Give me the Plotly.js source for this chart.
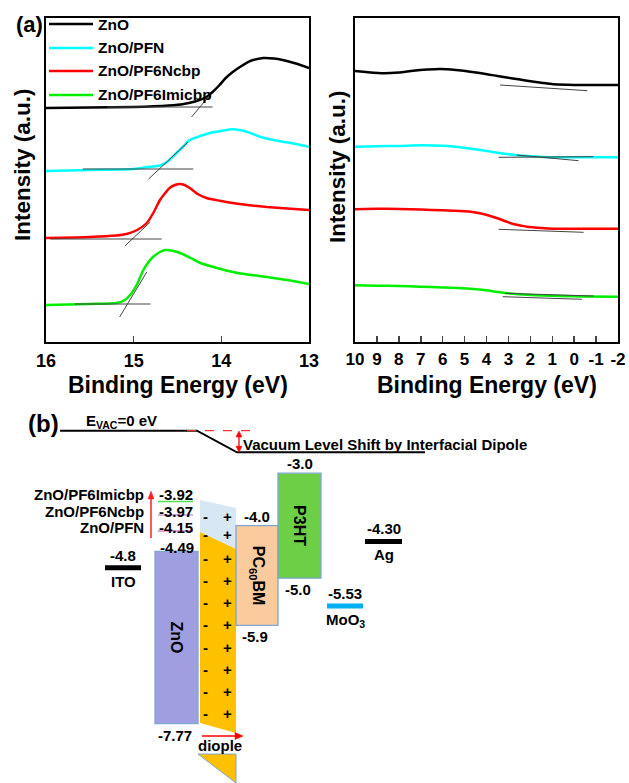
<!DOCTYPE html>
<html>
<head>
<meta charset="utf-8">
<script src="https://cdn.plot.ly/plotly-3.0.1.min.js"></script>
<style>html,body{margin:0;padding:0;background:#fff;}#chart{width:629px;height:783px;}</style>
</head>
<body>
<div id="chart"></div>
<script>
// ---------- DATA: panel (a) UPS cut-off region ----------
const seriesNames = ['ZnO', 'ZnO/PFN', 'ZnO/PF6Ncbp', 'ZnO/PF6Imicbp'];
const cutoffE_ZnO = [16, 15.5, 15, 14.6, 14.43, 14.3, 14.17, 14.1, 14.02, 13.95, 13.87, 13.77, 13.67, 13.52, 13.4, 13.3, 13.15, 13.0];
const cutoffI_ZnO = [234, 234.5, 235, 236.5, 238, 240.5, 245, 250, 257, 264, 270, 276, 281, 284, 283.5, 282, 278.5, 274];
const cutoffE_PFN = [16, 15.5, 15.0, 14.81, 14.7, 14.62, 14.51, 14.43, 14.36, 14.24, 14.13, 14.0, 13.87, 13.7, 13.56, 13.43, 13.3, 13.15, 13.0];
const cutoffI_PFN = [171, 172, 173, 175.3, 176.5, 180, 189, 196, 202, 206, 209, 211, 212.7, 210, 205.3, 202.5, 200.3, 198, 195.3];
const cutoffE_Ncbp = [16, 15.5, 15.2, 15.08, 14.96, 14.85, 14.77, 14.7, 14.64, 14.59, 14.53, 14.47, 14.42, 14.36, 14.27, 14.17, 14.0, 13.87, 13.7, 13.48, 13.25, 13.0];
const cutoffI_Ncbp = [104, 105, 106.5, 108, 112, 119, 130, 142, 149, 154, 157, 158, 157, 154, 148, 144, 141, 139, 137, 135, 133.5, 132];
const cutoffE_Imicbp = [16, 15.5, 15.2, 15.12, 15.04, 14.96, 14.89, 14.83, 14.78, 14.7, 14.64, 14.57, 14.47, 14.35, 14.24, 14.05, 13.87, 13.7, 13.48, 13.25, 13.0];
const cutoffI_Imicbp = [37, 38, 39, 41, 47, 58, 72, 80, 85, 90, 92, 91.5, 89, 84, 79, 74, 70, 67.5, 65, 62, 58];
// tangent / baseline construction lines (cut-off)
const tanLeftE = [[15.3, 14.1], [14.34, 14.13], [15.58, 14.32], [14.83, 14.38], [15.95, 14.68], [15.1, 14.81], [15.67, 14.81], [15.16, 14.85]];
const tanLeftI = [[235, 235], [225, 247], [173, 173], [163, 200], [103, 103], [96, 120], [38, 38], [25, 70]];

// ---------- DATA: panel (a) valence band region ----------
const vbE_ZnO = [10, 9.5, 8.7, 8, 7.35, 6.7, 6.1, 5.4, 4.75, 4.1, 3.5, 2.8, 2.15, 1.5, 0.96, 0.3, -0.27, -1, -2];
const vbI_ZnO = [271, 270, 268.7, 269.5, 271.3, 272.5, 273, 272, 270.3, 268.3, 266, 263.5, 261.3, 259.3, 257.7, 257.2, 257, 257, 257];
const vbE_PFN = [10, 9, 8, 7.03, 6, 5.2, 4.3, 3.5, 2.8, 2.15, 1.4, 0.64, -0.5, -2];
const vbI_PFN = [195.3, 195.8, 196, 196.7, 196.2, 194.7, 192, 189.3, 187.3, 186, 185, 184.7, 184.7, 184.7];
const vbE_Ncbp = [10, 9, 8.55, 7.5, 6.5, 5.5, 4.8, 4.3, 3.9, 3.5, 3.1, 2.78, 2.4, 2.15, 1.5, 0.96, 0, -1, -2];
const vbI_Ncbp = [132.7, 133.2, 133.3, 132.8, 132, 131.3, 130.5, 128.7, 126.5, 123.7, 120.5, 118, 116.3, 115.3, 114, 113.3, 113.3, 113.3, 113.3];
const vbE_Imicbp = [10, 9, 8, 7.03, 6, 4.75, 4, 3.5, 2.8, 2.15, 1.4, 0.64, -0.5, -2];
const vbI_Imicbp = [56.7, 56.3, 56, 55.3, 54.5, 53.3, 51.8, 50, 48.3, 47.3, 46.5, 46, 45.5, 45.3];
const tanRightE = [[3.38, -0.6], [3.45, -0.88], [2.62, -0.2], [3.45, -0.43], [3.26, -0.35], [3.15, -0.88]];
const tanRightI = [[257, 251.3], [184.7, 185.3], [187, 181.3], [112.7, 109.7], [45.3, 42.7], [48.7, 46]];

const leftTicks = [16, 15, 14, 13];
const rightTicks = [10, 9, 8, 7, 6, 5, 4, 3, 2, 1, 0, -1, -2];

// ---------- DATA: panel (b) energy levels (eV) ----------
const materials = ['ZnO', 'PC<sub>60</sub>BM', 'P3HT'];
const lumo = [-4.49, -4.0, -3.0];
const homo = [-7.77, -5.9, -5.0];
const lumoLabels = ['-4.49', '-4.0', '-3.0'];
const homoLabels = ['-7.77', '-5.9', '-5.0'];
const electrodes = ['ITO', 'MoO<sub>3</sub>', 'Ag'];
const workFunction = [-4.8, -5.53, -4.30];
const wfLabels = ['-4.8', '-5.53', '-4.30'];
const interlayers = ['ZnO/PFN', 'ZnO/PF6Ncbp', 'ZnO/PF6Imicbp'];
const interWF = [-4.15, -3.97, -3.92];
const interLabels = ['-4.15', '-3.97', '-3.92'];

// ---------- layout helpers (positions / styles) ----------
const W = 629, H = 783;
const P = x => x / W;
const Q = y => 1 - y / H;
const FONT = 'Liberation Sans, Arial, sans-serif';
const colors = ['#000000', '#00ffff', '#ff0000', '#00ee00'];
const boxX = [176.5, 257, 299.5];
const boxW = [43, 42, 43];
const boxFill = ['#9e9ee0', '#fbca9d', '#6ccf45'];
const lumoShift = [-6.5, -1, -1];
const elecX0 = [105, 327, 365];
const elecX1 = [141, 363, 402];
const elecColor = ['#000000', '#00b0f0', '#000000'];
const interShift = [6, 12.5, 26.5];
const interLine = [2.5, 9, 20];
const interLineColor = ['#e27fd0', '#c39be2', '#55dd55'];

const traces = [];
const leftE = [cutoffE_ZnO, cutoffE_PFN, cutoffE_Ncbp, cutoffE_Imicbp];
const leftI = [cutoffI_ZnO, cutoffI_PFN, cutoffI_Ncbp, cutoffI_Imicbp];
const rightE = [vbE_ZnO, vbE_PFN, vbE_Ncbp, vbE_Imicbp];
const rightI = [vbI_ZnO, vbI_PFN, vbI_Ncbp, vbI_Imicbp];
for (let i = 0; i < 4; i++) {
  traces.push({type: 'scatter', mode: 'lines', name: seriesNames[i], x: leftE[i], y: leftI[i],
    line: {color: colors[i], width: 2.5, shape: 'spline', smoothing: 0.6}, xaxis: 'x', yaxis: 'y', hoverinfo: 'skip'});
  traces.push({type: 'scatter', mode: 'lines', name: seriesNames[i], x: rightE[i], y: rightI[i],
    line: {color: colors[i], width: 2.5, shape: 'spline', smoothing: 0.6}, xaxis: 'x2', yaxis: 'y2', hoverinfo: 'skip'});
}
for (let k = 0; k < tanLeftE.length; k++) {
  traces.push({type: 'scatter', mode: 'lines', x: tanLeftE[k], y: tanLeftI[k], line: {color: '#444', width: 1},
    xaxis: 'x', yaxis: 'y', hoverinfo: 'skip'});
}
for (let k = 0; k < tanRightE.length; k++) {
  traces.push({type: 'scatter', mode: 'lines', x: tanRightE[k], y: tanRightI[k], line: {color: '#444', width: 1},
    xaxis: 'x2', yaxis: 'y2', hoverinfo: 'skip'});
}
// energy-level boxes
traces.push({type: 'bar', x: boxX, width: boxW, base: homo, y: lumo.map((t, i) => t - homo[i]),
  marker: {color: boxFill, line: {color: '#7fa7d0', width: 1.3}},
  text: materials, textposition: 'inside', insidetextanchor: 'middle', textangle: 90,
  textfont: {family: FONT, size: 16, color: '#000', weight: 'bold'},
  xaxis: 'x3', yaxis: 'y3', hoverinfo: 'skip'});
// electrode work functions
for (let i = 0; i < electrodes.length; i++) {
  traces.push({type: 'scatter', mode: 'lines', x: [elecX0[i], elecX1[i]], y: [workFunction[i], workFunction[i]],
    line: {color: elecColor[i], width: 5}, xaxis: 'x3', yaxis: 'y3', hoverinfo: 'skip'});
}

const shapes = [];
const annotations = [];
const bold = (size, color) => ({family: FONT, size: size, color: color || '#000', weight: 'bold'});
const pathOf = pts => 'M ' + pts.map(p => `${P(p[0])},${Q(p[1])}`).join(' L ') + ' Z';
const arrowHead = (pts, color) => shapes.push({type: 'path', xref: 'paper', yref: 'paper', path: pathOf(pts),
  fillcolor: color, line: {color: color, width: 0.5}});
const seg = (x0, y0, x1, y1, color, width, dash) => shapes.push({type: 'line', xref: 'paper', yref: 'paper',
  x0: P(x0), y0: Q(y0), x1: P(x1), y1: Q(y1), line: {color: color, width: width, dash: dash || 'solid'}});

// legend (manual)
const legY = [24, 48, 71, 95];
for (let i = 0; i < 4; i++) {
  seg(49, legY[i], 93, legY[i], colors[i], 2.5);
  annotations.push({xref: 'paper', yref: 'paper', x: P(96), y: Q(legY[i]), xanchor: 'left', yanchor: 'middle',
    text: seriesNames[i], showarrow: false, font: bold(15.5)});
}
// panel labels and axis titles
annotations.push({xref: 'paper', yref: 'paper', x: P(29), y: Q(25), text: '(a)', showarrow: false, font: bold(22), xanchor: 'center', yanchor: 'middle'});
annotations.push({xref: 'paper', yref: 'paper', x: P(43), y: Q(423), text: '(b)', showarrow: false, font: bold(24), xanchor: 'center', yanchor: 'middle'});
annotations.push({xref: 'paper', yref: 'paper', x: P(177.5), y: Q(385), text: 'Binding Energy (eV)', showarrow: false, font: bold(23), xanchor: 'center', yanchor: 'middle'});
annotations.push({xref: 'paper', yref: 'paper', x: P(486.5), y: Q(385), text: 'Binding Energy (eV)', showarrow: false, font: bold(23), xanchor: 'center', yanchor: 'middle'});
annotations.push({xref: 'paper', yref: 'paper', x: P(22), y: Q(165), text: 'Intensity (a.u.)', textangle: -90, showarrow: false, font: bold(22.5), xanchor: 'center', yanchor: 'middle'});
annotations.push({xref: 'paper', yref: 'paper', x: P(337), y: Q(167), text: 'Intensity (a.u.)', textangle: -90, showarrow: false, font: bold(22.5), xanchor: 'center', yanchor: 'middle'});

// vacuum level schematic
shapes.push({type: 'path', xref: 'paper', yref: 'paper',
  path: `M ${P(60)},${Q(430.7)} L ${P(197)},${Q(430.7)} L ${P(237)},${Q(452.3)} L ${P(425)},${Q(452.3)}`,
  line: {color: '#000', width: 2}});
seg(187, 430.7, 258, 430.7, '#ff3030', 1.2, 'dash');
seg(239, 436, 239, 447, '#ff0000', 1.3);
arrowHead([[239, 431], [236, 437], [242, 437]], '#ff0000');
arrowHead([[239, 452.3], [236, 446.3], [242, 446.3]], '#ff0000');
annotations.push({xref: 'paper', yref: 'paper', x: P(241), y: Q(444), xanchor: 'left', yanchor: 'middle', showarrow: false,
  text: 'Vacuum Level Shift by Interfacial Dipole', font: bold(15)});
annotations.push({xref: 'paper', yref: 'paper', x: P(84), y: Q(421), xanchor: 'left', yanchor: 'middle', showarrow: false,
  text: 'E<sub>VAC</sub>=0 eV', font: bold(15)});

// interfacial dipole region
shapes.push({type: 'path', xref: 'paper', yref: 'paper', layer: 'below',
  path: pathOf([[200, 500], [236, 508], [236, 549], [200, 532]]), fillcolor: '#d8e7f4', line: {width: 0}});
shapes.push({type: 'path', xref: 'paper', yref: 'paper', layer: 'below',
  path: pathOf([[200, 532], [236, 549], [236, 733], [200, 723]]), fillcolor: '#ffc000', line: {width: 0}});
shapes.push({type: 'path', xref: 'paper', yref: 'paper',
  path: pathOf([[198, 754], [236, 754], [236, 783]]), fillcolor: '#ffc000', line: {color: '#7fa7d0', width: 1}});
const signRows = [516.5, 534.5, 558, 580, 602, 624, 647, 669, 691, 713];
signRows.forEach(r => {
  annotations.push({xref: 'paper', yref: 'paper', x: P(205), y: Q(r), text: '-', showarrow: false, font: bold(15), xanchor: 'center', yanchor: 'middle'});
  annotations.push({xref: 'paper', yref: 'paper', x: P(227), y: Q(r), text: '+', showarrow: false, font: bold(15), xanchor: 'center', yanchor: 'middle'});
});
seg(202, 736, 236, 736, '#ff0000', 1.6);
arrowHead([[243, 736], [235, 732.5], [235, 739.5]], '#ff0000');
annotations.push({xref: 'paper', yref: 'paper', x: P(220), y: Q(745), text: 'diople', showarrow: false, font: bold(15), xanchor: 'center', yanchor: 'middle'});

// energy-level labels
for (let i = 0; i < materials.length; i++) {
  annotations.push({xref: 'x3', yref: 'y3', x: boxX[i], y: lumo[i], yanchor: 'bottom', xanchor: 'center', showarrow: false,
    text: lumoLabels[i], font: bold(15), yshift: lumoShift[i]});
  annotations.push({xref: 'x3', yref: 'y3', x: boxX[i] - 2, y: homo[i], yanchor: 'top', xanchor: 'center', showarrow: false,
    text: homoLabels[i], font: bold(15), yshift: -1});
}
for (let i = 0; i < electrodes.length; i++) {
  const cx = (elecX0[i] + elecX1[i]) / 2;
  annotations.push({xref: 'x3', yref: 'y3', x: cx, y: workFunction[i], yanchor: 'bottom', xanchor: 'center', showarrow: false,
    text: wfLabels[i], font: bold(15), yshift: 2});
  annotations.push({xref: 'x3', yref: 'y3', x: cx, y: workFunction[i], yanchor: 'top', xanchor: 'center', showarrow: false,
    text: electrodes[i], font: bold(15), yshift: -3});
}
for (let i = 0; i < interlayers.length; i++) {
  annotations.push({xref: 'x3', yref: 'y3', x: 146, y: interWF[i], yanchor: 'middle', xanchor: 'right', showarrow: false,
    text: interlayers[i], font: bold(15), yshift: interShift[i]});
  annotations.push({xref: 'x3', yref: 'y3', x: 176, y: interWF[i], yanchor: 'middle', xanchor: 'center', showarrow: false,
    text: interLabels[i], font: bold(15), yshift: interShift[i]});
  shapes.push({type: 'line', xref: 'x3', yref: 'y3', x0: 158, x1: 193, ysizemode: 'pixel', yanchor: interWF[i],
    y0: interLine[i], y1: interLine[i], line: {color: interLineColor[i], width: 1.5}});
}
seg(151, 538, 151, 498, '#ff2020', 1.5);
arrowHead([[151, 491], [148, 499], [154, 499]], '#ff2020');

const frameAxis = {showline: true, linewidth: 2, linecolor: '#000', mirror: true, showgrid: false, zeroline: false};
const layout = {
  width: W, height: H, margin: {l: 0, r: 0, t: 0, b: 0}, showlegend: false,
  paper_bgcolor: '#fff', plot_bgcolor: '#fff',
  xaxis: Object.assign({}, frameAxis, {domain: [P(46), P(309)], range: [16, 13], anchor: 'y',
    tickmode: 'array', tickvals: leftTicks, ticktext: leftTicks.map(String), ticks: 'inside', ticklen: 6, tickwidth: 1.5,
    tickfont: bold(18), ticklabelstandoff: 1}),
  yaxis: Object.assign({}, frameAxis, {domain: [Q(342), Q(18)], range: [0, 324], anchor: 'x', showticklabels: false, ticks: ''}),
  xaxis2: Object.assign({}, frameAxis, {domain: [P(355), P(618)], range: [10, -2], anchor: 'y2',
    tickmode: 'array', tickvals: rightTicks, ticktext: rightTicks.map(String), ticks: 'inside', ticklen: 6, tickwidth: 1.5,
    tickfont: bold(17), ticklabelstandoff: 1}),
  yaxis2: Object.assign({}, frameAxis, {domain: [Q(342), Q(18)], range: [0, 324], anchor: 'x2', showticklabels: false, ticks: ''}),
  xaxis3: {domain: [0, 1], range: [0, 629], anchor: 'y3', visible: false, fixedrange: true},
  yaxis3: {domain: [0, Q(460)], range: [-8.901, -2.749], anchor: 'x3', visible: false, fixedrange: true},
  bargap: 0,
  shapes: shapes,
  annotations: annotations
};
Plotly.newPlot('chart', traces, layout, {staticPlot: true, displayModeBar: false}).then(gd => {
  // remove empty placeholder text nodes (unused axis titles)
  gd.querySelectorAll('text').forEach(t => { if (!t.textContent.trim()) t.remove(); });
});
</script>
</body>
</html>
